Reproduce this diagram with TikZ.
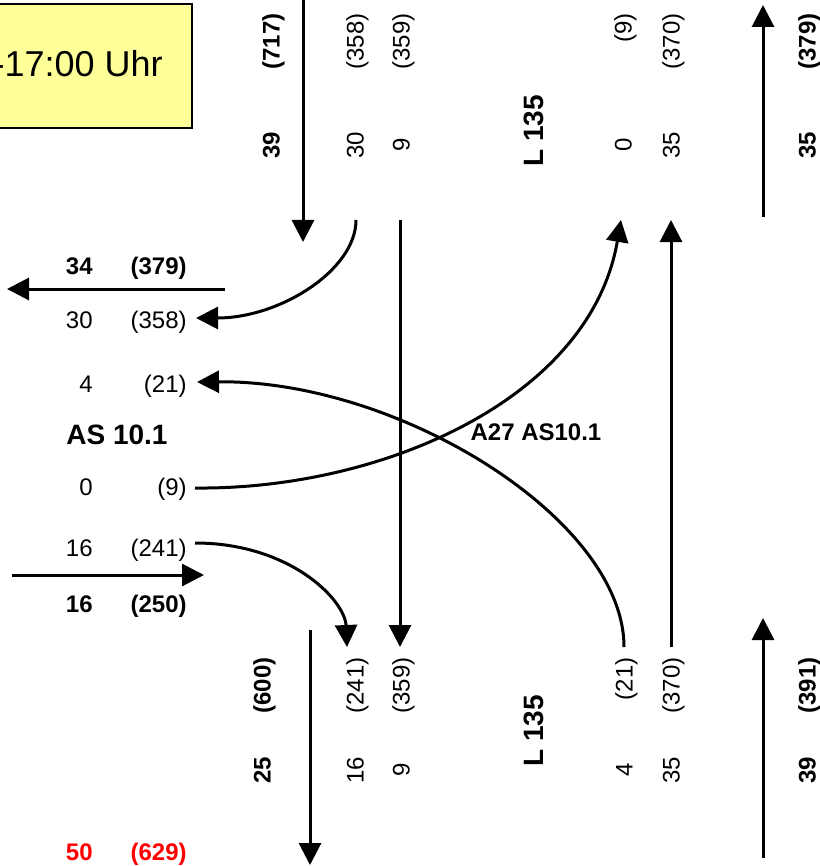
\documentclass[tikz,border=0pt]{standalone}
\usepackage{fontspec}
\setmainfont{Liberation Sans}
\usetikzlibrary{arrows.meta}
\definecolor{boxyellow}{HTML}{FFFF99}
\tikzset{
	flow/.style={line width=1.5pt, -{Triangle[length=11pt,width=11pt]}},
	num/.style={font=\fontsize{12}{14}\selectfont, inner sep=0pt, text height=8.6pt, text depth=0pt},
	bnum/.style={num, font=\fontsize{12}{14}\selectfont\bfseries},
	road/.style={font=\fontsize{14}{16}\selectfont\bfseries, inner sep=0pt, text height=10pt, text depth=0pt},
	up/.style={rotate=90},
}
\begin{document}
\begin{tikzpicture}[x=0.5pt,y=-0.5pt]
	\useasboundingbox (0,0) rectangle (819,866);
	
	\draw[fill=boxyellow, line width=0.75pt] (-10,4) rectangle (192,128); % time box
	\node[anchor=east, inner sep=0pt, font=\fontsize{18}{21}\selectfont] (time) at (163,64) {-17:00 Uhr};
	
	% AS 10.1 side
	\node[bnum, anchor=east] (n34) at (93,266) {34};
	\node[bnum, anchor=east] (p379) at (187,266) {(379)};
	\node[num, anchor=east] (n30) at (93,320) {30};
	\node[num, anchor=east] (p358) at (187,320) {(358)};
	\node[num, anchor=east] (n4) at (93,384) {4};
	\node[num, anchor=east] (p21) at (187,384) {(21)};
	\node[road] (as) at (117,434) {AS 10.1};
	\node[num, anchor=east] (n0) at (93,487) {0};
	\node[num, anchor=east] (p9) at (187,487) {(9)};
	\node[num, anchor=east] (n16) at (93,548) {16};
	\node[num, anchor=east] (p241) at (187,548) {(241)};
	\node[bnum, anchor=east] (n16b) at (93,604) {16};
	\node[bnum, anchor=east] (p250) at (187,604) {(250)};
	\node[bnum, red, anchor=east] (n50) at (93,852) {50};
	\node[bnum, red, anchor=east] (p629) at (187,852) {(629)};
	
	% L 135 north
	\node[bnum, up, anchor=east] (t717) at (271,13) {(717)};
	\node[bnum, up] (t39) at (271,145) {39};
	\node[num, up, anchor=east] (t358) at (355,13) {(358)};
	\node[num, up] (t30) at (355,145) {30};
	\node[num, up, anchor=east] (t359) at (401,13) {(359)};
	\node[num, up] (t9) at (401,145) {9};
	\node[road, up] (lnorth) at (533,131) {L 135};
	\node[num, up, anchor=east] (t9b) at (623,13) {(9)};
	\node[num, up] (t0) at (623,145) {0};
	\node[num, up, anchor=east] (t370) at (671,13) {(370)};
	\node[num, up] (t35) at (671,145) {35};
	\node[bnum, up, anchor=east] (t379) at (807,13) {(379)};
	\node[bnum, up] (t35b) at (807,145) {35};
	
	% L 135 south
	\node[bnum, up, anchor=east] (s600) at (262,657) {(600)};
	\node[bnum, up] (s25) at (262,770) {25};
	\node[num, up, anchor=east] (s241) at (355,657) {(241)};
	\node[num, up] (s16) at (355,770) {16};
	\node[num, up, anchor=east] (s359) at (401,657) {(359)};
	\node[num, up] (s9) at (401,770) {9};
	\node[road, up] (lsouth) at (533,731) {L 135};
	\node[num, up, anchor=east] (s21) at (624,657) {(21)};
	\node[num, up] (s4) at (624,770) {4};
	\node[num, up, anchor=east] (s370) at (671,657) {(370)};
	\node[num, up] (s35) at (671,770) {35};
	\node[bnum, up, anchor=east] (s391) at (807,657) {(391)};
	\node[bnum, up] (s39) at (807,770) {39};
	
	\node[bnum] (a27) at (536,432) {A27 AS10.1};
	
	% arrow ends
	\coordinate (nin) at (303,0);   \coordinate (nintip) at (303,242);
	\coordinate (nout) at (763,217); \coordinate (nouttip) at (763,5);
	\coordinate (sin) at (763,858);  \coordinate (sintip) at (763,618);
	\coordinate (sout) at (310,630); \coordinate (souttip) at (310,865);
	\coordinate (wout) at (225,289); \coordinate (wouttip) at (7,289);
	\coordinate (win) at (12,575);   \coordinate (wintip) at (204,575);
	\coordinate (n358) at (356,220); \coordinate (w358) at (196,318);
	\coordinate (n359) at (400,220); \coordinate (s359t) at (400,647);
	\coordinate (w241) at (195,543); \coordinate (s241t) at (347,647);
	\coordinate (w9) at (195,488);   \coordinate (n9) at (621,220);
	\coordinate (s21b) at (624,647); \coordinate (w21) at (197,382);
	\coordinate (s370b) at (671,647); \coordinate (n370) at (671,220);
	
	% totals
	\draw[flow] (nin) -- (nintip);
	\draw[flow] (nout) -- (nouttip);
	\draw[flow] (sin) -- (sintip);
	\draw[flow] (sout) -- (souttip);
	\draw[flow] (wout) -- (wouttip);
	\draw[flow] (win) -- (wintip);
	
	% turning flows
	\draw[flow] (n358) .. controls (356,270) and (280,318) .. (w358);
	\draw[flow] (n359) -- (s359t);
	\draw[flow] (w241) .. controls (290,543) and (345,600) .. (s241t);
	\draw[flow] (w9) .. controls (380,490) and (590,400) .. (n9);
	\draw[flow] (s21b) .. controls (624,520) and (400,380) .. (w21);
	\draw[flow] (s370b) -- (n370);
	
\end{tikzpicture}
\end{document}
